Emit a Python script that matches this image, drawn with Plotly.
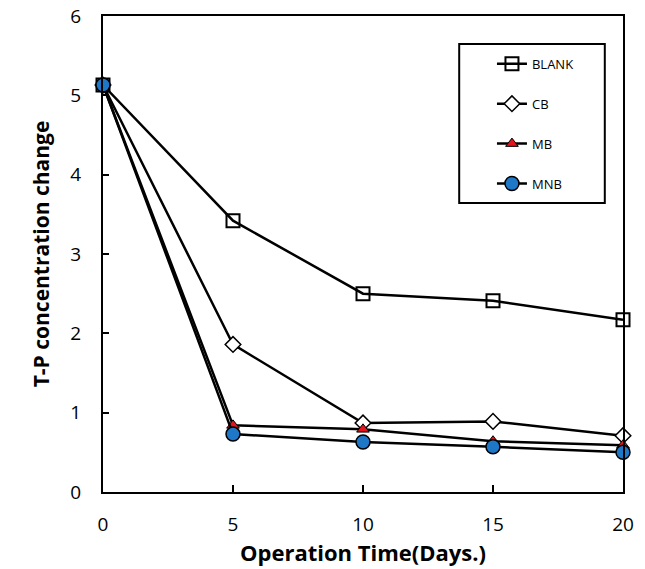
import plotly.graph_objects as go

days = [0, 5, 10, 15, 20]
blank = [5.13, 3.42, 2.50, 2.41, 2.17]
cb = [5.13, 1.86, 0.87, 0.89, 0.71]
mb = [5.13, 0.84, 0.79, 0.64, 0.59]
mnb = [5.13, 0.73, 0.63, 0.57, 0.50]

series = [
    ("BLANK", blank, dict(symbol="square-open", size=13, color="black", line=dict(color="black", width=2))),
    ("CB", cb, dict(symbol="diamond", size=12, color="white", line=dict(color="black", width=1.5))),
    ("MB", mb, dict(symbol="triangle-up", size=11, color="#e3141b", line=dict(color="black", width=1))),
    ("MNB", mnb, dict(symbol="circle", size=14, color="#1f77c8", line=dict(color="black", width=1.5))),
]

fig = go.Figure()
for i, (name, vals, mk) in enumerate(series):
    fig.add_trace(go.Scatter(
        x=days, y=vals, name=name, mode="lines+markers",
        line=dict(color="black", width=2.5), marker=mk,
        cliponaxis=False, legendgroup=f"g{i}",
    ))

# legend frame
fig.add_shape(type="rect", xref="paper", yref="paper",
              x0=0.685, x1=0.965, y0=0.607, y1=0.941,
              line=dict(color="black", width=2), fillcolor="white", layer="below")

fig.update_layout(
    width=645, height=569,
    margin=dict(l=103, r=22, t=16, b=77, autoexpand=False),
    paper_bgcolor="white", plot_bgcolor="white",
    font=dict(family="Open Sans, Liberation Sans, sans-serif", color="black"),
    legend=dict(
        x=0.748, y=0.931, xanchor="left", yanchor="top",
        borderwidth=0, bgcolor="rgba(0,0,0,0)",
        font=dict(size=13), tracegroupgap=20, itemwidth=30,
        traceorder="grouped",
    ),
    xaxis=dict(
        range=[0, 20], tickvals=[0, 5, 10, 15, 20], showgrid=False, zeroline=False,
        showline=True, linecolor="black", linewidth=2, mirror=True,
        ticks="inside", ticklen=7, tickwidth=2, tickcolor="black",
        tickfont=dict(size=19), ticklabelstandoff=14, automargin=False,
        ticklabeloverflow="allow",
        title=dict(text="<b>Operation Time(Days.)</b>", font=dict(size=22), standoff=0),
    ),
    yaxis=dict(
        range=[0, 6], tickvals=[0, 1, 2, 3, 4, 5, 6], showgrid=False, zeroline=False,
        showline=True, linecolor="black", linewidth=2, mirror=True,
        ticks="inside", ticklen=6, tickwidth=2, tickcolor="black",
        tickfont=dict(size=19), ticklabelstandoff=16, automargin=False,
        ticklabeloverflow="allow",
        title=dict(text="<b>T-P concentration change</b>", font=dict(size=21), standoff=15),
    ),
)

fig.write_html("out.html", config={"displayModeBar": False},
               post_script="document.body.style.margin='0';")
